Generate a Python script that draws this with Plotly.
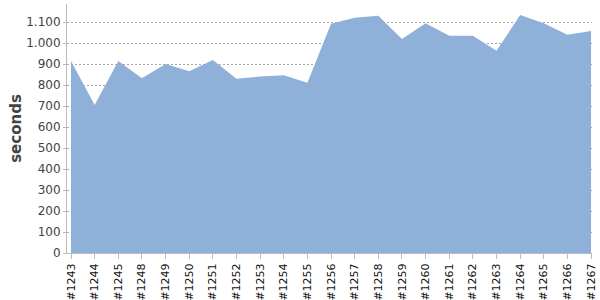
import plotly.graph_objects as go

builds = ["#1243", "#1244", "#1245", "#1248", "#1249", "#1250", "#1251", "#1252",
          "#1253", "#1254", "#1255", "#1256", "#1257", "#1258", "#1259", "#1260",
          "#1261", "#1262", "#1263", "#1264", "#1265", "#1266", "#1267"]
seconds = [915, 705, 915, 833, 901, 867, 920, 831, 841, 847, 811, 1093, 1122, 1131,
           1020, 1095, 1036, 1036, 964, 1134, 1095, 1040, 1058]

fig = go.Figure()
fig.add_trace(go.Scatter(
    x=builds, y=seconds, mode="lines", fill="tozeroy",
    line=dict(width=0, color="rgb(142,176,217)"),
    fillcolor="rgb(142,176,217)", hoverinfo="x+y",
))

fig.update_layout(
    width=600, height=300,
    margin=dict(l=67, r=8, t=4, b=47),
    paper_bgcolor="white", plot_bgcolor="white",
    separators=",.",
    showlegend=False,
    font=dict(family="DejaVu Sans", color="#444"),
    xaxis=dict(
        type="category", range=[-0.17, 22.04], automargin=False,
        tickangle=-90, tickfont=dict(size=11, color="#111"),
        showgrid=False, showline=True, linecolor="#bbb", linewidth=1,
        ticks="outside", ticklen=5, tickcolor="#bbb",
        zeroline=False,
    ),
    yaxis=dict(
        range=[0, 1187], dtick=100, tickformat=",d", automargin=False,
        tickfont=dict(size=12, color="#444"),
        ticks="outside", ticklen=3, tickcolor="#bbb",
        showline=True, linecolor="#bbb", linewidth=1,
        showgrid=True, gridcolor="rgba(60,60,60,0.45)", griddash="2px,2px",
        zeroline=False, layer="above traces",
        title=dict(text="<b>seconds</b>", font=dict(size=15, color="#444"), standoff=0),
    ),
)

fig.write_html("out.html")
